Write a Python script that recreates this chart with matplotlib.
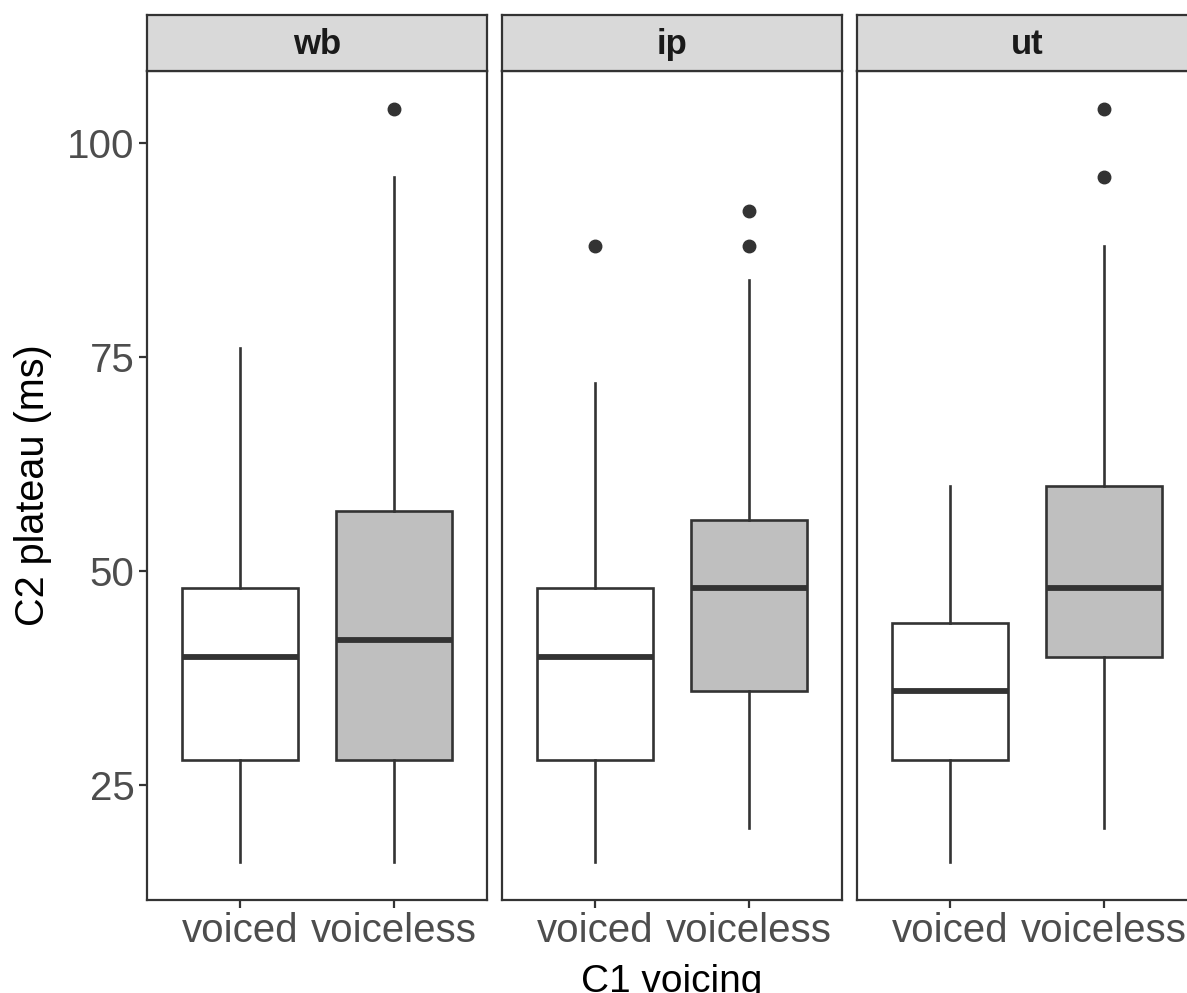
import matplotlib
matplotlib.use("Agg")
import matplotlib.pyplot as plt

plt.rcParams['font.family'] = ['Liberation Sans', 'DejaVu Sans']

panels = ["wb", "ip", "ut"]
categories = ["voiced", "voiceless"]

# five-number summaries per panel: [voiced, voiceless]
whisker_low = {"wb": [16, 16], "ip": [16, 20], "ut": [16, 20]}
q1 = {"wb": [28, 28], "ip": [28, 36], "ut": [28, 40]}
median = {"wb": [40, 42], "ip": [40, 48], "ut": [36, 48]}
q3 = {"wb": [48, 57], "ip": [48, 56], "ut": [44, 60]}
whisker_high = {"wb": [76, 96], "ip": [72, 84], "ut": [60, 88]}
outliers = {"wb": [[], [104]], "ip": [[88], [88, 92]], "ut": [[], [96, 104]]}

fills = ["#FFFFFF", "#BFBFBF"]
yticks = [25, 50, 75, 100]

W, H = 1187, 993
fig = plt.figure(figsize=(W / 100, H / 100), dpi=100)

lefts = [147, 502, 857]
pw = 340
top, bottom = 71, 900
strip_top = 15
ink = "#333333"

ymin, ymax = 11.6, 108.4

for i, p in enumerate(panels):
    ax = fig.add_axes([lefts[i] / W, 1 - bottom / H, pw / W, (bottom - top) / H])
    stats = []
    for j in range(2):
        stats.append(dict(whislo=whisker_low[p][j], q1=q1[p][j], med=median[p][j],
                          q3=q3[p][j], whishi=whisker_high[p][j],
                          fliers=outliers[p][j]))
    bp = ax.bxp(stats, positions=[1, 2], widths=0.75, patch_artist=True,
                showcaps=False,
                boxprops=dict(edgecolor=ink, linewidth=1.9),
                whiskerprops=dict(color=ink, linewidth=1.9),
                medianprops=dict(color=ink, linewidth=4.2, solid_capstyle='butt'),
                flierprops=dict(marker='o', markerfacecolor=ink, markeredgecolor=ink,
                                markersize=9))
    for patch, fc in zip(bp['boxes'], fills):
        patch.set_facecolor(fc)
    ax.set_xlim(0.4, 2.6)
    ax.set_ylim(ymin, ymax)
    ax.set_xticks([1, 2])
    ax.set_xticklabels(categories)
    ax.set_yticks(yticks)
    ax.tick_params(axis='both', colors=ink, length=6, width=1.6,
                   labelsize=29, labelcolor="#4D4D4D", pad=3)
    if i > 0:
        ax.tick_params(axis='y', left=False, labelleft=False)
    for s in ax.spines.values():
        s.set_color(ink)
        s.set_linewidth(1.6)
    # facet strip
    sax = fig.add_axes([lefts[i] / W, 1 - top / H, pw / W, (top - strip_top) / H])
    sax.set_xlim(0, 1)
    sax.set_ylim(0, 1)
    sax.set_facecolor("#D9D9D9")
    sax.set_xticks([])
    sax.set_yticks([])
    for s in sax.spines.values():
        s.set_color(ink)
        s.set_linewidth(1.6)
    sax.text(0.5, 0.48, p, ha='center', va='center', fontsize=25,
             fontweight='bold', color="#1A1A1A")

fig.text(33 / W, 1 - 485 / H, "C2 plateau (ms)", rotation=90, ha='center',
         va='center', fontsize=28.5, color='black')
fig.text(672 / W, 1 - 982 / H, "C1 voicing", ha='center', va='center',
         fontsize=28, color='black')

fig.savefig("out.png", dpi=100, facecolor='white')
